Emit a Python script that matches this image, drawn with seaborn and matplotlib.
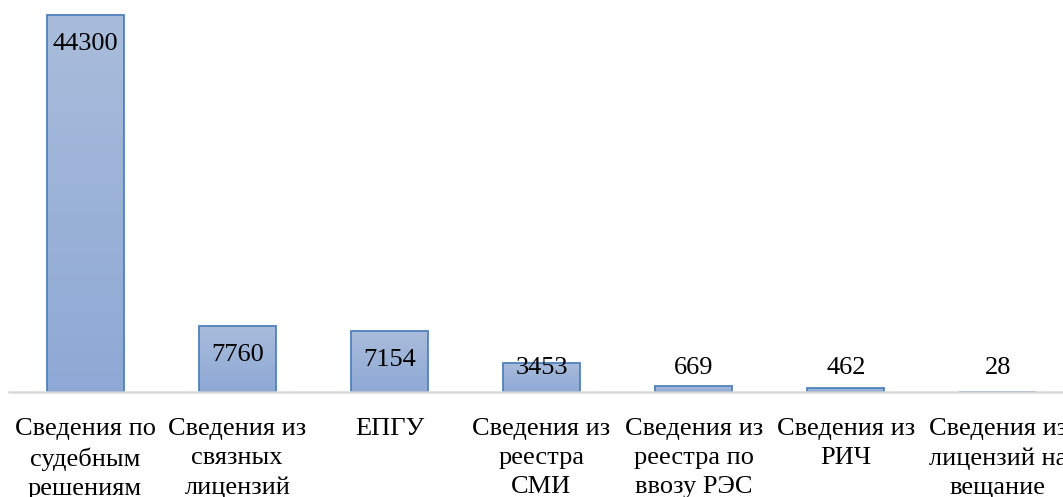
import numpy as np
import pandas as pd
import matplotlib
matplotlib.use('Agg')
import matplotlib.pyplot as plt
import seaborn as sns
from matplotlib.colors import LinearSegmentedColormap

categories = [
    'Сведения по\nсудебным\nрешениям',
    'Сведения из\nсвязных\nлицензий',
    'ЕПГУ',
    'Сведения из\nреестра\nСМИ',
    'Сведения из\nреестра по\nввозу РЭС',
    'Сведения из\nРИЧ',
    'Сведения из\nлицензий на\nвещание',
]
values = [44300, 7760, 7154, 3453, 669, 462, 28]

sns.set_style('white')
plt.rcParams['font.family'] = ['Liberation Serif', 'DejaVu Serif']

df = pd.DataFrame({'cat': categories, 'val': values})

fig = plt.figure(figsize=(10.63, 4.97), dpi=100)
W, H = 1063, 497
# axes spans a bit past the right edge, like the cropped original
ax = fig.add_axes([9 / W, 105 / H, 1065 / W, 387 / H])
sns.barplot(data=df, x='cat', y='val', ax=ax, width=0.506,
            color='#9bb2d9', edgecolor='#4f81bd', linewidth=1.3,
            saturation=1)
ax.set_xlim(-0.5, 6.5)
ax.set_ylim(0, 44300 * 387 / 377)

# vertical gradient fill inside each bar
cmap = LinearSegmentedColormap.from_list('bar', ['#8ea9d5', '#a9bcdb'])
grad = np.linspace(0, 1, 256).reshape(-1, 1)
for p in ax.patches:
    x0, y0 = p.get_x(), p.get_y()
    w, h = p.get_width(), p.get_height()
    if h <= 0:
        continue
    im = ax.imshow(grad, cmap=cmap, aspect='auto', origin='lower',
                   extent=[x0, x0 + w, y0, y0 + h], zorder=p.get_zorder() - 0.1)
    im.set_clip_path(p)
    p.set_facecolor('none')
ax.set_xlim(-0.5, 6.5)
ax.set_ylim(0, 44300 * 387 / 377)

for s in ['left', 'right', 'top']:
    ax.spines[s].set_visible(False)
ax.spines['bottom'].set_color('#d9d9d9')
ax.spines['bottom'].set_linewidth(1.8)
ax.spines['bottom'].set_zorder(5)
ax.set_yticks([])
ax.set_xlabel('')
ax.set_ylabel('')
ax.tick_params(axis='x', length=0, pad=18.5, labelsize=19, labelcolor='black')
for t in ax.get_xticklabels():
    t.set_linespacing(1.42)

# value labels: inside end, but kept above the axis for short bars
fig.canvas.draw()
inv = ax.transData.inverted()
base_px = ax.transData.transform((0, 0))[1]
for i, v in enumerate(values):
    top_px = ax.transData.transform((0, v))[1]
    lab_px = max(top_px - 29, base_px + 24)
    y = inv.transform((0, lab_px))[1]
    ax.text(i, y, str(v), ha='center', va='center', fontsize=19,
            color='black', zorder=10)

fig.savefig('out.png', dpi=100)
